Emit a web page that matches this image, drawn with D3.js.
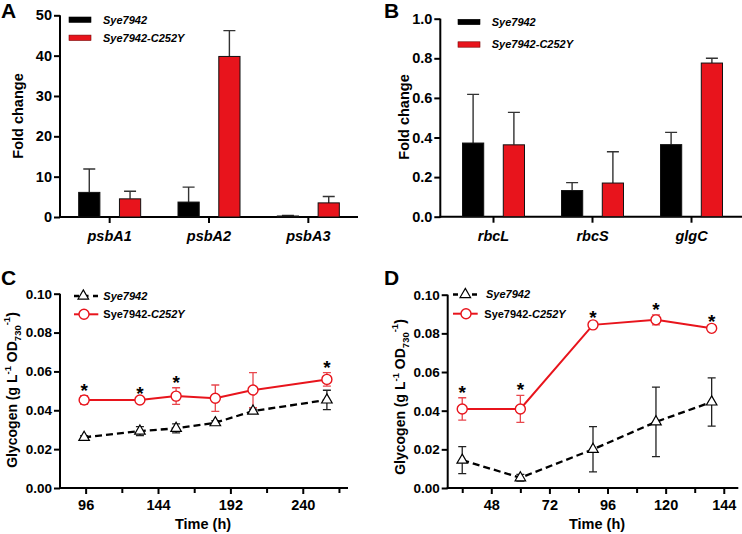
<!DOCTYPE html>
<html>
<head>
<meta charset="utf-8">
<script src="https://cdn.jsdelivr.net/npm/d3@7"></script>
<style>
  body { margin: 0; background: #fff; }
  svg { display: block; }
</style>
</head>
<body>
<script>
// ---------------- DATA ----------------
const seriesNames = ["Sye7942", "Sye7942-C252Y"];

// Panel A
const catsA = ["psbA1", "psbA2", "psbA3"];
const wtA = [6.1, 3.7, 0.25];
const wtAErr = [5.8, 3.7, 0.15];
const mutA = [4.5, 39.8, 3.5];
const mutAErr = [1.9, 6.4, 1.6];
const ticksA = [0, 10, 20, 30, 40, 50];

// Panel B
const catsB = ["rbcL", "rbcS", "glgC"];
const wtB = [0.372, 0.132, 0.364];
const wtBErr = [0.246, 0.040, 0.062];
const mutB = [0.363, 0.170, 0.776];
const mutBErr = [0.164, 0.158, 0.024];
const ticksB = [0, 0.2, 0.4, 0.6, 0.8, 1.0];

// Panel C
const timeC = [95, 132, 156, 182, 207, 256];
const wtC = [0.0261, 0.0293, 0.0307, 0.0336, 0.0396, 0.0453];
const wtCErr = [0.0008, 0.0023, 0.0023, 0.0010, 0.0010, 0.0050];
const mutC = [0.0453, 0.0453, 0.0473, 0.0462, 0.0504, 0.0559];
const mutCErr = [0.0022, 0.0006, 0.0043, 0.0068, 0.0090, 0.0035];
const sigC = [true, true, true, false, false, true];
const majorC = [96, 144, 192, 240];
const minorC = [120, 168, 216, 264];

// Panel D
const timeD = [36, 60, 90, 116, 139];
const wtD = [0.0144, 0.0053, 0.0200, 0.0342, 0.0445];
const wtDErr = [0.0070, 0.0017, 0.0117, 0.0180, 0.0125];
const mutD = [0.0409, 0.0409, 0.0844, 0.0870, 0.0826];
const mutDErr = [0.0058, 0.0070, 0.0008, 0.0026, 0.0008];
const sigD = [true, true, true, true, true];
const majorD = [48, 72, 96, 120, 144];
const minorD = [36, 60, 84, 108, 132];

const ticksLine = [0, 0.02, 0.04, 0.06, 0.08, 0.10];

// ---------------- STYLE ----------------
const RED = "#e8141c";
const FONT = "'Liberation Sans', Arial, Helvetica, sans-serif";
const W = 742, H = 534;

const svg = d3.select("body").append("svg")
  .attr("width", W).attr("height", H)
  .style("font-family", FONT);
svg.append("rect").attr("width", W).attr("height", H).attr("fill", "#fff");

function styleAxis(g, fontSize) {
  g.select(".domain").remove();
  g.selectAll(".tick line").attr("stroke", "#000").attr("stroke-width", 2);
  g.selectAll(".tick text").attr("fill", "#000")
    .style("font-size", fontSize + "px").style("font-weight", "bold");
}

function panelLetter(txt, x, y) {
  svg.append("text").attr("x", x).attr("y", y).text(txt)
    .style("font-size", "21px").style("font-weight", "bold");
}

// ---------------- BAR PANELS ----------------
function barPanel(o) {
  const g = svg.append("g");
  const y = d3.scaleLinear().domain([0, o.max]).range([o.yBottom, o.yTop]);
  const x = d3.scaleBand().domain(o.cats).range([o.bandStart, o.bandEnd]);
  const sub = d3.scaleBand().domain(seriesNames).range([-31, 31]).paddingInner(0.48);

  const ya = g.append("g").attr("transform", `translate(${o.axisX},0)`)
    .call(d3.axisLeft(y).tickValues(o.ticks).tickFormat(o.fmt).tickSize(6).tickPadding(2));
  styleAxis(ya, 14.5);
  const xa = g.append("g").attr("transform", `translate(0,${o.yBottom})`)
    .call(d3.axisBottom(x).tickSize(6).tickPadding(6));
  styleAxis(xa, 14.5);
  xa.selectAll(".tick text").style("font-style", "italic").attr("dy", "0.85em");

  g.append("line").attr("x1", o.axisX).attr("x2", o.axisX)
    .attr("y1", y.range()[1]).attr("y2", y.range()[0] + 1)
    .attr("stroke", "#000").attr("stroke-width", 2);
  g.append("line").attr("x1", o.axisX - 1).attr("x2", o.xEnd)
    .attr("y1", o.yBottom).attr("y2", o.yBottom)
    .attr("stroke", "#000").attr("stroke-width", 2);

  const rows = [];
  o.cats.forEach((c, i) => {
    rows.push({ c, s: seriesNames[0], v: o.wt[i], e: o.wtErr[i], fill: "#000" });
    rows.push({ c, s: seriesNames[1], v: o.mut[i], e: o.mutErr[i], fill: RED });
  });
  const cx = d => x(d.c) + x.bandwidth() / 2 + sub(d.s) + sub.bandwidth() / 2;

  g.selectAll(".eb").data(rows).enter().append("path")
    .attr("d", d => {
      const xx = cx(d), y0 = y(d.v), y1 = y(d.v + d.e);
      return `M${xx},${y0}V${y1}M${xx - 6},${y1}H${xx + 6}`;
    })
    .attr("stroke", "#333").attr("stroke-width", 1.4).attr("fill", "none");

  g.selectAll(".bar").data(rows).enter().append("rect")
    .attr("x", d => x(d.c) + x.bandwidth() / 2 + sub(d.s))
    .attr("width", sub.bandwidth())
    .attr("y", d => y(d.v))
    .attr("height", d => o.yBottom - y(d.v))
    .attr("fill", d => d.fill)
    .attr("stroke", "#111").attr("stroke-width", 1);

  g.append("text").attr("transform", `translate(${o.titleX},${o.titleY}) rotate(-90)`)
    .attr("text-anchor", "middle").text("Fold change")
    .style("font-size", "14.5px").style("font-weight", "bold");

  const L = o.legend;
  [0, 1].forEach(i => {
    g.append("rect").attr("x", L.x).attr("y", L.ys[i] - 2.7).attr("width", 22).attr("height", 5.4)
      .attr("fill", i === 0 ? "#000" : RED).attr("stroke", i === 0 ? "#000" : "#700").attr("stroke-width", 0.6);
    g.append("text").attr("x", L.tx).attr("y", L.ys[i] + 3.8).text(seriesNames[i])
      .style("font-size", "11px").style("font-weight", "bold").style("font-style", "italic");
  });
}

barPanel({
  cats: catsA, wt: wtA, wtErr: wtAErr, mut: mutA, mutErr: mutAErr,
  max: 50, ticks: ticksA, fmt: d3.format("d"),
  axisX: 60, xEnd: 358, yTop: 15.3, yBottom: 217, bandStart: 60, bandEnd: 358,
  titleX: 23, titleY: 116,
  legend: { x: 69, tx: 103, ys: [19.7, 37.8] }
});
barPanel({
  cats: catsB, wt: wtB, wtErr: wtBErr, mut: mutB, mutErr: mutBErr,
  max: 1.0, ticks: ticksB, fmt: d3.format(".1f"),
  axisX: 440.3, xEnd: 742, yTop: 18.7, yBottom: 216.7, bandStart: 444, bandEnd: 741,
  titleX: 409, titleY: 117,
  legend: { x: 458, tx: 491.7, ys: [22, 44.5] }
});

// ---------------- LINE PANELS ----------------
function linePanel(o) {
  const g = svg.append("g");
  const y = d3.scaleLinear().domain([0, 0.10]).range([488, o.yTop]);
  const x = d3.scaleLinear().domain(o.xDomain).range([o.axisX, o.xEnd]);

  const ya = g.append("g").attr("transform", `translate(${o.axisX},0)`)
    .call(d3.axisLeft(y).tickValues(ticksLine).tickFormat(d3.format(".2f")).tickSize(6).tickPadding(2));
  styleAxis(ya, 13.5);
  const xa = g.append("g").attr("transform", `translate(0,488)`)
    .call(d3.axisBottom(x).tickValues(o.major).tickFormat(d3.format("d")).tickSize(6).tickPadding(6));
  styleAxis(xa, 14.5);
  const xm = g.append("g").attr("transform", `translate(0,488)`)
    .call(d3.axisBottom(x).tickValues(o.minor).tickFormat("").tickSize(5));
  styleAxis(xm, 10);

  g.append("line").attr("x1", o.axisX).attr("x2", o.axisX)
    .attr("y1", y(0.10)).attr("y2", 489)
    .attr("stroke", "#000").attr("stroke-width", 2);
  g.append("line").attr("x1", o.axisX - 1).attr("x2", o.xEnd)
    .attr("y1", 488).attr("y2", 488)
    .attr("stroke", "#000").attr("stroke-width", 2);

  const wt = o.t.map((t, i) => ({ t, v: o.wt[i], e: o.wtErr[i] }));
  const mut = o.t.map((t, i) => ({ t, v: o.mut[i], e: o.mutErr[i], sig: o.sig[i] }));

  const eb = (d, w) => {
    const xx = x(d.t), a = y(d.v + d.e), b = y(d.v - d.e);
    return `M${xx},${a}V${b}M${xx - w},${a}H${xx + w}M${xx - w},${b}H${xx + w}`;
  };
  g.selectAll(".ebw").data(wt).enter().append("path").attr("d", d => eb(d, 4))
    .attr("stroke", "#222").attr("stroke-width", 1.3).attr("fill", "none");
  g.selectAll(".ebm").data(mut).enter().append("path").attr("d", d => eb(d, 4))
    .attr("stroke", "#e8474d").attr("stroke-width", 1.3).attr("fill", "none");

  const line = d3.line().x(d => x(d.t)).y(d => y(d.v));
  g.append("path").datum(wt).attr("d", line).attr("fill", "none")
    .attr("stroke", "#000").attr("stroke-width", 2.3).attr("stroke-dasharray", "7,4");
  g.append("path").datum(mut).attr("d", line).attr("fill", "none")
    .attr("stroke", RED).attr("stroke-width", 2);

  const tri = d3.symbol().type(d3.symbolTriangle).size(48);
  g.selectAll(".tri").data(wt).enter().append("path")
    .attr("transform", d => `translate(${x(d.t)},${y(d.v)})`).attr("d", tri)
    .attr("fill", "#fff").attr("stroke", "#000").attr("stroke-width", 1.2);
  g.selectAll(".cir").data(mut).enter().append("circle")
    .attr("cx", d => x(d.t)).attr("cy", d => y(d.v)).attr("r", 5)
    .attr("fill", "#fff").attr("stroke", RED).attr("stroke-width", 1.4);

  g.selectAll(".star").data(mut.filter(d => d.sig)).enter().append("text")
    .attr("x", d => x(d.t)).attr("y", d => y(d.v + d.e) + 1)
    .attr("text-anchor", "middle").text("*")
    .style("font-size", "19px").style("font-weight", "bold");

  g.append("text").attr("x", o.timeX).attr("y", 529).attr("text-anchor", "middle")
    .text("Time (h)").style("font-size", "14.5px").style("font-weight", "bold");

  const yt = g.append("text").attr("transform", `translate(${o.titleX},${o.titleY}) rotate(-90)`)
    .attr("text-anchor", "middle").style("font-size", "14px").style("font-weight", "bold");
  yt.append("tspan").text("Glycogen (g L");
  yt.append("tspan").text("-1").attr("dy", -6).style("font-size", "9.5px");
  yt.append("tspan").text(" OD").attr("dy", 6);
  yt.append("tspan").text("730").attr("dy", 4).style("font-size", "9.5px");
  yt.append("tspan").text("-1").attr("dy", -11).style("font-size", "9.5px");
  yt.append("tspan").text(")").attr("dy", 7);

  const L = o.legend;
  g.append("line").attr("x1", L.x1).attr("x2", L.x2).attr("y1", L.y0).attr("y2", L.y0)
    .attr("stroke", "#000").attr("stroke-width", 2.3).attr("stroke-dasharray", "5,4.5");
  g.append("path").attr("transform", `translate(${L.mx0},${L.y0})`).attr("d", tri)
    .attr("fill", "#fff").attr("stroke", "#000").attr("stroke-width", 1.2);
  g.append("text").attr("x", L.tx0).attr("y", L.y0 + 3.8).text(seriesNames[0])
    .style("font-size", "11px").style("font-weight", "bold").style("font-style", "italic");

  g.append("line").attr("x1", L.x1).attr("x2", L.x2).attr("y1", L.y1).attr("y2", L.y1)
    .attr("stroke", RED).attr("stroke-width", 2);
  g.append("circle").attr("cx", L.mx1).attr("cy", L.y1).attr("r", 5)
    .attr("fill", "#fff").attr("stroke", RED).attr("stroke-width", 1.4);
  const t1 = g.append("text").attr("x", L.tx1).attr("y", L.y1 + 3.8)
    .style("font-size", "11px").style("font-weight", "bold");
  t1.append("tspan").text("Sye7942-");
  t1.append("tspan").text("C252Y").style("font-style", "italic");
}

linePanel({
  t: timeC, wt: wtC, wtErr: wtCErr, mut: mutC, mutErr: mutCErr, sig: sigC,
  major: majorC, minor: minorC, xDomain: [79, 270],
  axisX: 60, xEnd: 348, yTop: 293.7, timeX: 203, titleX: 17, titleY: 390,
  legend: { x1: 74, x2: 98.3, y0: 296, y1: 314.3, mx0: 83.3, mx1: 84, tx0: 103.3, tx1: 103.3 }
});
linePanel({
  t: timeD, wt: wtD, wtErr: wtDErr, mut: mutD, mutErr: mutDErr, sig: sigD,
  major: majorD, minor: minorD, xDomain: [30, 150],
  axisX: 447.7, xEnd: 738.3, yTop: 294.7, timeX: 597, titleX: 405, titleY: 397,
  legend: { x1: 453, x2: 477.7, y0: 294.5, y1: 313.7, mx0: 465.3, mx1: 466, tx0: 486, tx1: 484.3 }
});

panelLetter("A", 1, 18);
panelLetter("B", 384, 18);
panelLetter("C", 1, 285);
panelLetter("D", 384, 285);
</script>
</body>
</html>
